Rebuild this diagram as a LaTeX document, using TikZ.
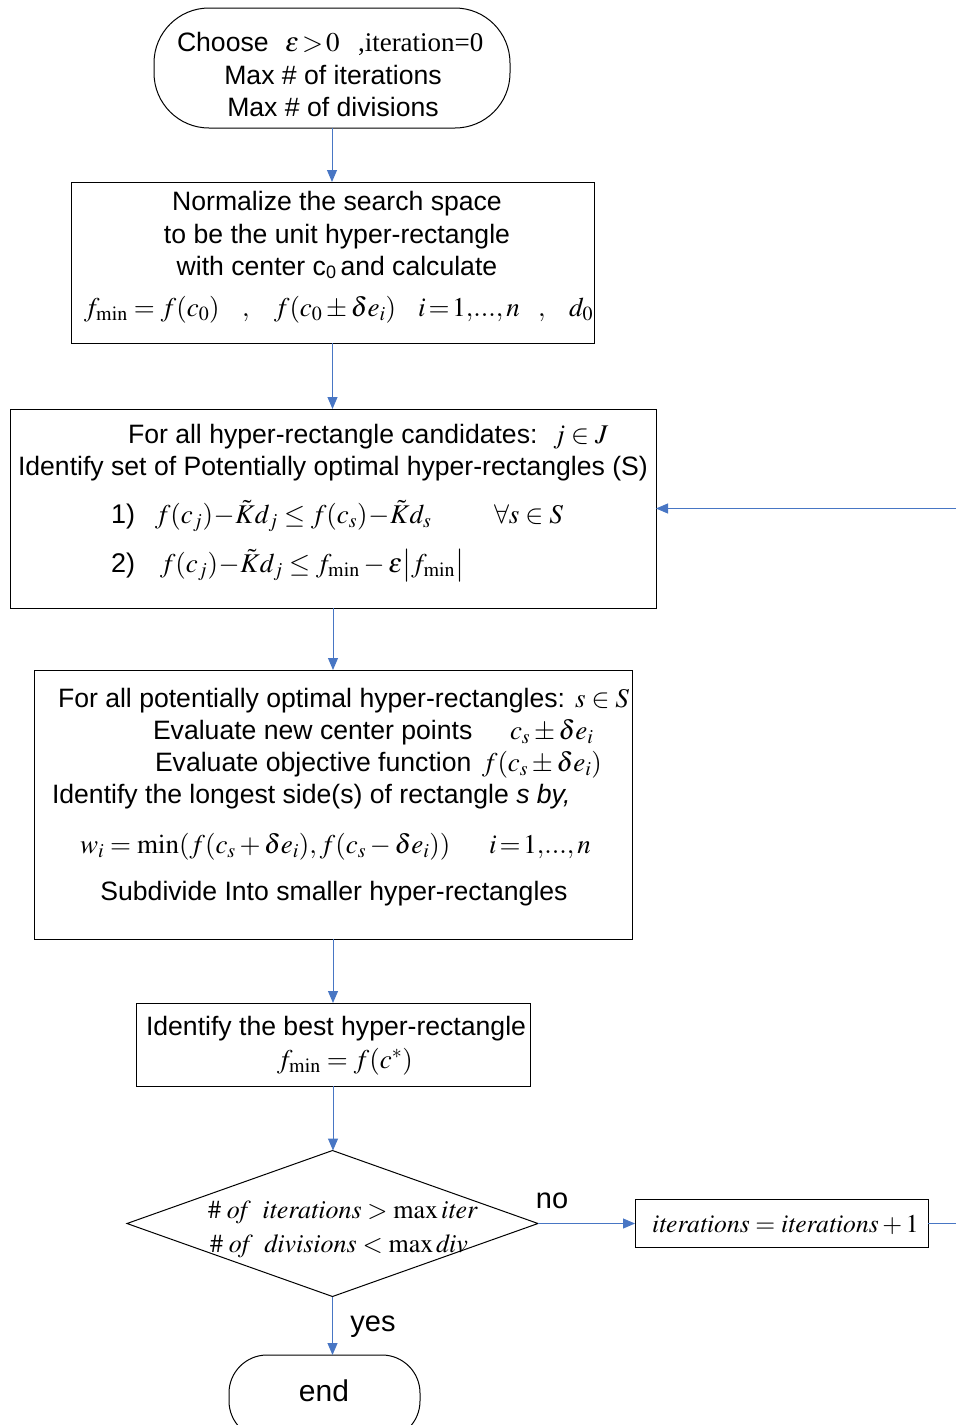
\documentclass[tikz,border=0pt]{standalone}
\usepackage{mathptmx}
\usepackage[no-math]{fontspec}
\setmainfont{Liberation Sans}
\newfontfamily\timesfont{Liberation Serif}
\usetikzlibrary{arrows.meta,shapes.geometric}
\definecolor{flowblue}{RGB}{72,118,196}
\begin{document}
\begin{tikzpicture}[x=1pt,y=-1pt,
  every node/.style={inner sep=0pt, outer sep=0pt},
  box/.style={draw=black, line width=1pt, rectangle},
  txt/.style={anchor=base west, font=\fontsize{26.6}{32}\selectfont},
  ctxt/.style={anchor=base, font=\fontsize{26.6}{32}\selectfont},
  mth/.style={anchor=base west, font=\fontsize{27}{32}\selectfont},
  small/.style={font=\fontsize{26}{30}\selectfont},
  flow/.style={draw=flowblue, line width=1pt, -{Triangle[length=12pt,width=10pt]}},
]
\useasboundingbox (0,0) rectangle (956,1425);

% ---- shapes ----
\node[box, rounded corners=55pt, minimum width=356pt, minimum height=120pt] (start) at (332,68) {};
\node[box, minimum width=523pt, minimum height=161pt] (norm) at (332.5,262.5) {};
\node[box, minimum width=646pt, minimum height=199pt] (ident) at (333,508.5) {};
\node[box, minimum width=598pt, minimum height=269pt] (eval) at (333,804.5) {};
\node[box, minimum width=394pt, minimum height=83pt] (best) at (333,1044.5) {};
\node[draw=black, line width=1pt, diamond, minimum width=411pt, minimum height=146pt] (test) at (332.5,1223.5) {};
\node[box, minimum width=293pt, minimum height=48pt] (incr) at (781.5,1223.5) {};
\node[box, rounded corners=38pt, minimum width=191pt, minimum height=84pt] (stop) at (324.5,1397) {};

% ---- start ----
\node[txt] (s1a) at (177,51) {Choose};
\node[mth] (s1b) at (285,51) {$\varepsilon\!>\!0$};
\node[mth] (s1c) at (358,51) {\timesfont ,iteration=0};
\node[ctxt] (s2) at (333,84) {Max \# of iterations};
\node[ctxt] (s3) at (333,116) {Max \# of divisions};

% ---- normalize ----
\node[ctxt] (n1) at (337,210) {Normalize the search space};
\node[ctxt] (n2) at (337,243) {to be the unit hyper-rectangle};
\node[ctxt] (n3) at (337,275) {with center c\raisebox{-0.15em}{\fontsize{18}{18}\selectfont 0}\,and calculate};
\node[mth] (n4a) at (84,316) {$f_{\min}=f(c_0)$};
\node[mth] (n4b) at (242,316) {$,$};
\node[mth] (n4c) at (274,316) {$f(c_0\pm\delta e_i)$};
\node[mth] (n4d) at (418,316) {$i\!=\!1,\!...,n$};
\node[mth] (n4e) at (538,316) {$,$};
\node[mth] (n4f) at (569,316) {$d_0$};

% ---- potentially optimal set ----
\node[txt] (i1a) at (128,443) {For all hyper-rectangle candidates:};
\node[mth] (i1b) at (553,443) {$j\in J$};
\node[txt] (i2) at (18,475) {Identify set of Potentially optimal hyper-rectangles (S)};
\node[mth] (i3a) at (111,523) {1)};
\node[mth] (i3b) at (155,523) {$f(c_j)\!-\!\tilde{K}d_j\le f(c_s)\!-\!\tilde{K}d_s$};
\node[mth] (i3c) at (494,523) {$\forall s\in S$};
\node[mth] (i4a) at (111,572) {2)};
\node[mth] (i4b) at (160,572) {$f(c_j)\!-\!\tilde{K}d_j\le f_{\min}-\varepsilon\bigl|f_{\min}\bigr|$};

% ---- evaluation / division ----
\node[txt] (e1a) at (58,707) {For all potentially optimal hyper-rectangles:};
\node[mth] (e1b) at (575,707) {$s\in S$};
\node[txt] (e2a) at (153,739) {Evaluate new center points};
\node[mth] (e2b) at (510,739) {$c_s\pm\delta e_i$};
\node[txt] (e3a) at (155,771) {Evaluate objective function};
\node[mth] (e3b) at (482,771) {$f(c_s\pm\delta e_i)$};
\node[txt] (e4) at (52,803) {Identify the longest side(s) of rectangle \textit{s by,}};
\node[mth] (e5a) at (80,853) {$w_i=\min(f(c_s+\delta e_i),f(c_s-\delta e_i))$};
\node[mth] (e5b) at (489,853) {$i\!=\!1,\!...,n$};
\node[ctxt] (e6) at (334,900) {Subdivide Into smaller hyper-rectangles};

% ---- best rectangle ----
\node[txt] (b1) at (146,1035) {Identify the best hyper-rectangle};
\node[mth] (b2) at (277,1068) {$f_{\min}=f(c^{*})$};

% ---- stopping test ----
\node[mth, small] (t1) at (208,1218) {$\#\;\mathit{of}\;\;\mathit{iterations}>\max\mathit{iter}$};
\node[mth, small] (t2) at (210,1252) {$\#\;\mathit{of}\;\;\mathit{divisions}<\max\mathit{div}$};
\node[mth, font=\fontsize{25.6}{30}\selectfont] (inc) at (652,1232) {$\mathit{iterations}=\mathit{iterations}+1$};
\node[ctxt, font=\fontsize{29}{32}\selectfont] (no) at (552,1208) {no};
\node[ctxt, font=\fontsize{29}{32}\selectfont] (yes) at (373,1331) {yes};
\node[ctxt, font=\fontsize{30}{32}\selectfont] (endt) at (324,1401) {end};

% ---- connectors ----
\draw[flow] (start.south) -- (start.south |- norm.north);
\draw[flow] (norm.south) -- (norm.south |- ident.north);
\draw[flow] (ident.south) -- (ident.south |- eval.north);
\draw[flow] (eval.south) -- (eval.south |- best.north);
\draw[flow] (best.south) -- (best.south |- test.north);
\draw[flow] (test.south) -- (test.south |- stop.north);
\draw[flow] (test.east) -- (incr.west);
\draw[flow] (incr.east) -- ++(45,0) |- (ident.east);
\end{tikzpicture}
\end{document}
